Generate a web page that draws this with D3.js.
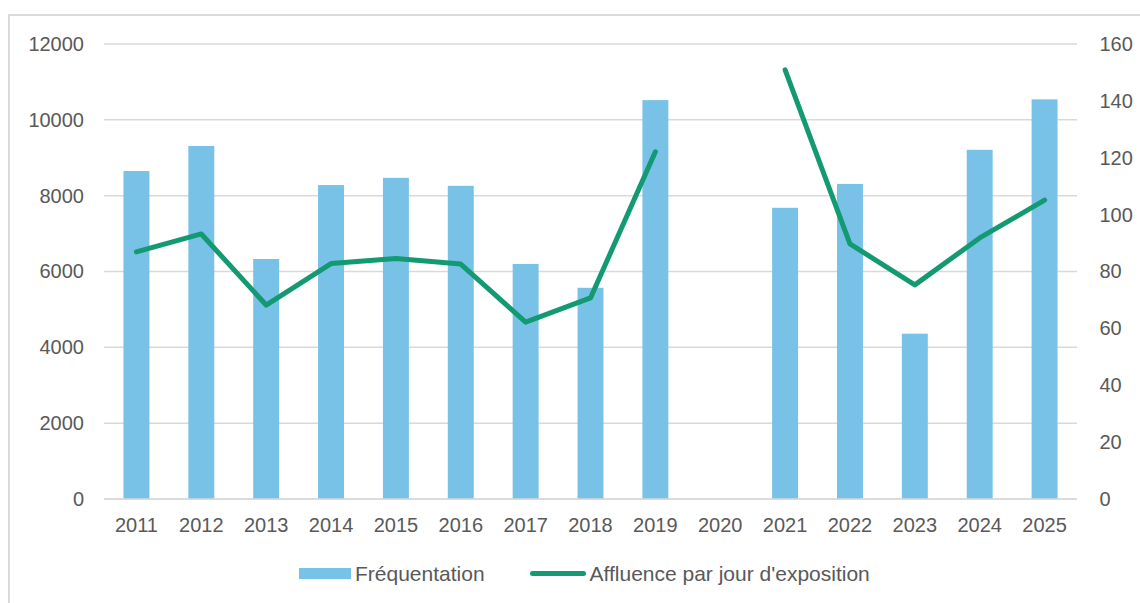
<!DOCTYPE html>
<html><head><meta charset="utf-8">
<script src="https://cdn.jsdelivr.net/npm/d3@7"></script>
<style>html,body{margin:0;padding:0;background:#fff;}svg{display:block;}</style>
</head><body>
<script>
const years = ["2011","2012","2013","2014","2015","2016","2017","2018","2019","2020","2021","2022","2023","2024","2025"];
const frequentation = [8650, 9310, 6330, 8280, 8470, 8260, 6200, 5570, 10520, null, 7680, 8310, 4360, 9210, 10540];
const affluence = [86.9, 93.2, 68.2, 82.8, 84.6, 82.6, 62.2, 70.7, 122.1, null, 150.9, 89.7, 75.3, 91.8, 105.1];
const leftTicks = [0, 2000, 4000, 6000, 8000, 10000, 12000];
const rightTicks = [0, 20, 40, 60, 80, 100, 120, 140, 160];
const seriesNames = ["Fréquentation", "Affluence par jour d'exposition"];

const W = 1140, H = 603;
const svg = d3.select("body").append("svg").attr("width", W).attr("height", H);
const font = "'Liberation Sans', Arial, sans-serif";
const txt = "#595959", grid = "#D9D9D9", barC = "#78C2E8", lineC = "#139A72";

svg.append("rect").attr("x", 9).attr("y", 15).attr("width", W + 10).attr("height", H + 10)
  .attr("fill", "#fff").attr("stroke", grid).attr("stroke-width", 2);

const L = 104, R = 1077, T = 44, B = 499;
const x = d3.scaleBand().domain(years).range([L, R]).paddingInner(0.6).paddingOuter(0.3);
const yL = d3.scaleLinear().domain([0, 12000]).range([B, T]);
const yR = d3.scaleLinear().domain([0, 160]).range([B, T]);

// gridlines
svg.append("g").selectAll("line").data(leftTicks).join("line")
  .attr("x1", L).attr("x2", R).attr("y1", d => yL(d)).attr("y2", d => yL(d))
  .attr("stroke", grid).attr("stroke-width", 1.5);

// left axis
const gl = svg.append("g").attr("transform", `translate(${L},0)`)
  .call(d3.axisLeft(yL).tickValues(leftTicks).tickSize(0).tickPadding(20).tickFormat(d3.format("d")));
gl.select(".domain").remove();
gl.selectAll("text").attr("font-family", font).attr("font-size", 20).attr("fill", txt);

// right axis
const gr = svg.append("g").attr("transform", `translate(${R},0)`)
  .call(d3.axisRight(yR).tickValues(rightTicks).tickSize(0).tickPadding(22.5));
gr.select(".domain").remove();
gr.selectAll("text").attr("font-family", font).attr("font-size", 20).attr("fill", txt);

// bars
svg.append("g").selectAll("rect").data(years.map((y, i) => ({y, v: frequentation[i]})).filter(d => d.v != null))
  .join("rect")
  .attr("x", d => x(d.y)).attr("width", x.bandwidth())
  .attr("y", d => yL(d.v)).attr("height", d => B - yL(d.v))
  .attr("fill", barC);

// baseline
svg.append("line").attr("x1", L).attr("x2", R).attr("y1", B).attr("y2", B).attr("stroke", grid).attr("stroke-width", 1.5);

// bottom axis
const gb = svg.append("g").attr("transform", `translate(0,${B})`)
  .call(d3.axisBottom(x).tickSize(0).tickPadding(19));
gb.select(".domain").remove();
gb.selectAll("text").attr("font-family", font).attr("font-size", 20).attr("fill", txt);

// line
const line = d3.line().defined(d => d.v != null)
  .x(d => x(d.y) + x.bandwidth() / 2).y(d => yR(d.v));
svg.append("path").datum(years.map((y, i) => ({y, v: affluence[i]})))
  .attr("d", line).attr("fill", "none").attr("stroke", lineC).attr("stroke-width", 5)
  .attr("stroke-linecap", "round").attr("stroke-linejoin", "round");

// legend
const lg = svg.append("g");
lg.append("rect").attr("x", 299).attr("y", 568).attr("width", 52).attr("height", 11).attr("fill", barC);
lg.append("text").attr("x", 355).attr("y", 573.5).attr("dy", "0.35em").text(seriesNames[0])
  .attr("font-family", font).attr("font-size", 21).attr("fill", txt);
lg.append("line").attr("x1", 532.5).attr("x2", 583.5).attr("y1", 573.5).attr("y2", 573.5)
  .attr("stroke", lineC).attr("stroke-width", 5).attr("stroke-linecap", "round");
lg.append("text").attr("x", 589.5).attr("y", 573.5).attr("dy", "0.35em").text(seriesNames[1])
  .attr("font-family", font).attr("font-size", 21).attr("fill", txt);
</script>
</body></html>
